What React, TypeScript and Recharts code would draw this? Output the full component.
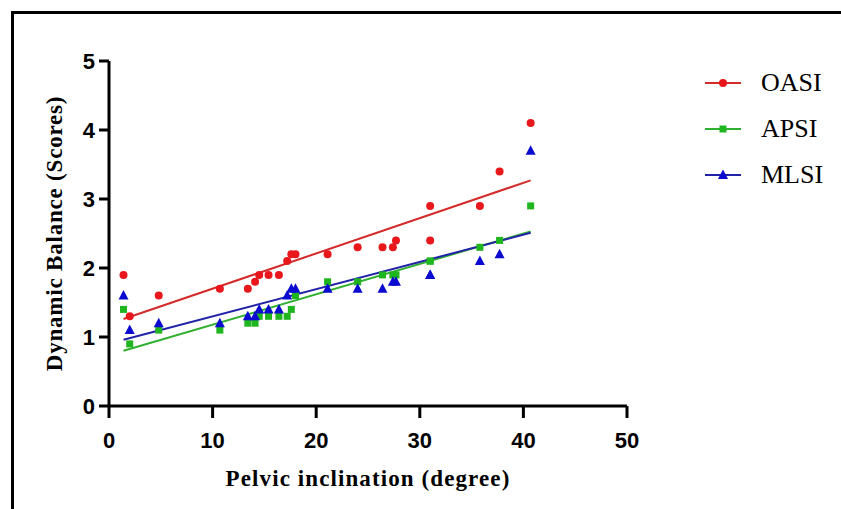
import React from 'react';
import { ScatterChart, Scatter, XAxis, YAxis, Label } from 'recharts';

const xValues = [1.4, 2.0, 4.8, 10.7, 13.4, 14.1, 14.5, 15.4, 16.4, 17.2, 17.6, 18.0, 21.1, 24.0, 26.4, 27.4, 27.7, 31.0, 31.0, 35.8, 37.7, 40.7];
const oasi = [1.9, 1.3, 1.6, 1.7, 1.7, 1.8, 1.9, 1.9, 1.9, 2.1, 2.2, 2.2, 2.2, 2.3, 2.3, 2.3, 2.4, 2.9, 2.4, 2.9, 3.4, 4.1];
const apsi = [1.4, 0.9, 1.1, 1.1, 1.2, 1.2, 1.3, 1.3, 1.3, 1.3, 1.4, 1.6, 1.8, 1.8, 1.9, 1.9, 1.9, 2.1, 2.1, 2.3, 2.4, 2.9];
const mlsi = [1.6, 1.1, 1.2, 1.2, 1.3, 1.3, 1.4, 1.4, 1.4, 1.6, 1.7, 1.7, 1.7, 1.7, 1.7, 1.8, 1.8, 1.9, 1.9, 2.1, 2.2, 3.7];

const fitX = [1.4, 40.7];
const oasiFit = [1.26, 3.27];
const apsiFit = [0.80, 2.53];
const mlsiFit = [0.96, 2.51];

const xTicks = [0, 10, 20, 30, 40, 50];
const yTicks = [0, 1, 2, 3, 4, 5];
const seriesNames = ['OASI', 'APSI', 'MLSI'];

const RED = '#e8171c';
const GREEN = '#1fb51f';
const BLUE = '#0a0ad0';
const RED_LINE = '#d42a2a';
const GREEN_LINE = '#30b030';
const BLUE_LINE = '#2222a8';

const toPoints = (xs: number[], ys: number[]) => xs.map((x, i) => ({ x, y: ys[i] }));

const CircleShape = (p: any) => <circle cx={p.cx} cy={p.cy} r={4} fill={RED} />;
const SquareShape = (p: any) => <rect x={p.cx - 3.5} y={p.cy - 3.5} width={7} height={7} fill={GREEN} />;
const TriangleShape = (p: any) => (
  <polygon points={`${p.cx},${p.cy - 5.5} ${p.cx - 5},${p.cy + 4} ${p.cx + 5},${p.cy + 4}`} fill={BLUE} />
);
const NoShape = () => <g />;

const legendItems = [
  { name: seriesNames[0], color: RED, line: RED_LINE, kind: 'circle' },
  { name: seriesNames[1], color: GREEN, line: GREEN_LINE, kind: 'square' },
  { name: seriesNames[2], color: BLUE, line: BLUE_LINE, kind: 'triangle' },
];

const LegendBox = () => (
  <div style={{ position: 'absolute', left: 705, top: 60, width: 136, fontFamily: '"Liberation Serif", serif', fontSize: 26, color: '#000' }}>
    {legendItems.map((it) => (
      <div key={it.name} style={{ display: 'flex', alignItems: 'center', height: 46 }}>
        <svg width={36} height={20} style={{ display: 'block' }}>
          <line x1={0} y1={10} x2={36} y2={10} stroke={it.line} strokeWidth={2} />
          {it.kind === 'circle' && <circle cx={18} cy={10} r={4} fill={it.color} />}
          {it.kind === 'square' && <rect x={14.5} y={6.5} width={7} height={7} fill={it.color} />}
          {it.kind === 'triangle' && <polygon points="18,4.5 13,14 23,14" fill={it.color} />}
        </svg>
        <span style={{ marginLeft: 20, lineHeight: '46px' }}>{it.name}</span>
      </div>
    ))}
  </div>
);

const tickStyle = { fontFamily: '"Liberation Sans", Arial, sans-serif', fontSize: 22, fontWeight: 700, fill: '#000' };
const labelFont = '"Liberation Serif", "Times New Roman", serif';

export default function App() {
  return (
    <div style={{ position: 'absolute', left: 0, top: 0, width: 841, height: 509, background: '#fff', overflow: 'hidden' }}>
      <div style={{ position: 'absolute', left: 11, top: 11, width: 900, height: 600, borderLeft: '3px solid #000', borderTop: '3px solid #000' }} />
      <div style={{ position: 'absolute', left: 0, top: 0 }}>
        <ScatterChart width={841} height={509} margin={{ top: 61, right: 214, bottom: 23, left: 0 }}>
          <XAxis
            type="number"
            dataKey="x"
            domain={[0, 50]}
            ticks={xTicks}
            height={80}
            axisLine={{ stroke: '#000', strokeWidth: 3 }}
            tickLine={{ stroke: '#000', strokeWidth: 3 }}
            tickSize={12}
            tickMargin={14}
            tick={tickStyle}
            interval={0}
          >
            <Label
              content={(props: any) => {
                const vb = props.viewBox || {};
                return (
                  <text x={vb.x + vb.width / 2} y={486} textAnchor="middle" fontFamily={labelFont} fontWeight={700} fontSize={23} letterSpacing={1.1} fill="#000">
                    Pelvic inclination (degree)
                  </text>
                );
              }}
            />
          </XAxis>
          <YAxis
            type="number"
            dataKey="y"
            domain={[0, 5]}
            ticks={yTicks}
            width={109}
            axisLine={{ stroke: '#000', strokeWidth: 3 }}
            tickLine={{ stroke: '#000', strokeWidth: 3 }}
            tickSize={10}
            tickMargin={4}
            tick={tickStyle}
            interval={0}
          >
            <Label
              content={(props: any) => {
                const vb = props.viewBox || {};
                const cy = vb.y + vb.height / 2;
                return (
                  <text x={62} y={cy} transform={`rotate(-90 62 ${cy})`} textAnchor="middle" fontFamily={labelFont} fontWeight={700} fontSize={23} letterSpacing={0.8} fill="#000">
                    Dynamic Balance (Scores)
                  </text>
                );
              }}
            />
          </YAxis>
          <Scatter name="OASI fit" data={toPoints(fitX, oasiFit)} line={{ stroke: RED_LINE, strokeWidth: 2 }} shape={NoShape} legendType="none" isAnimationActive={false} />
          <Scatter name="APSI fit" data={toPoints(fitX, apsiFit)} line={{ stroke: GREEN_LINE, strokeWidth: 2 }} shape={NoShape} legendType="none" isAnimationActive={false} />
          <Scatter name="MLSI fit" data={toPoints(fitX, mlsiFit)} line={{ stroke: BLUE_LINE, strokeWidth: 2 }} shape={NoShape} legendType="none" isAnimationActive={false} />
          <Scatter name={seriesNames[1]} data={toPoints(xValues, apsi)} shape={SquareShape} isAnimationActive={false} />
          <Scatter name={seriesNames[2]} data={toPoints(xValues, mlsi)} shape={TriangleShape} isAnimationActive={false} />
          <Scatter name={seriesNames[0]} data={toPoints(xValues, oasi)} shape={CircleShape} isAnimationActive={false} />
        </ScatterChart>
      </div>
      <LegendBox />
    </div>
  );
}
